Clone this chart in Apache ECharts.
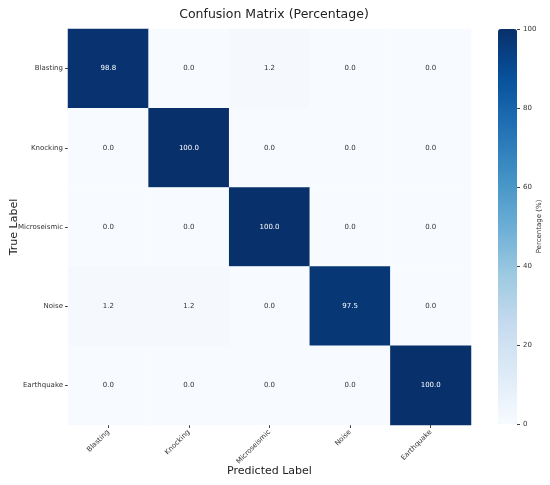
<!DOCTYPE html>
<html>
<head>
<meta charset="utf-8">
<script src="https://cdn.jsdelivr.net/npm/echarts@6/dist/echarts.min.js"></script>
<style>html,body{margin:0;padding:0;background:#fff;}#c{width:550px;height:485px;}</style>
</head>
<body>
<div id="c"></div>
<script>
var classes = ['Blasting', 'Knocking', 'Microseismic', 'Noise', 'Earthquake'];
var matrix = [
  [98.8, 0.0, 1.2, 0.0, 0.0],
  [0.0, 100.0, 0.0, 0.0, 0.0],
  [0.0, 0.0, 100.0, 0.0, 0.0],
  [1.2, 1.2, 0.0, 97.5, 0.0],
  [0.0, 0.0, 0.0, 0.0, 100.0]
];
var colorbarTicks = [0, 20, 40, 60, 80, 100];
var blues = ['#f7fbff', '#deebf7', '#c6dbef', '#9ecae1', '#6baed6', '#4292c6', '#2171b5', '#08519c', '#08306b'];

var data = [];
for (var r = 0; r < matrix.length; r++) {
  for (var c = 0; c < matrix[r].length; c++) {
    var v = matrix[r][c];
    data.push({value: [c, r, v], label: {color: v > 50 ? '#ffffff' : '#333333'}});
  }
}
var FONT = 'DejaVu Sans';
var chart = echarts.init(document.getElementById('c'), null, {renderer: 'canvas'});
chart.setOption({
  animation: false,
  backgroundColor: '#fff',
  textStyle: {fontFamily: FONT},
  title: {
    text: 'Confusion Matrix (Percentage)',
    left: 269, top: 3, textAlign: 'center',
    textStyle: {fontFamily: FONT, fontSize: 12.5, fontWeight: 'normal', color: '#222'}
  },
  grid: [
    {left: 68, top: 29, width: 403, height: 396, containLabel: false, outerBoundsMode: 'none'},
    {left: 517, top: 29, width: 20, height: 395, containLabel: false, outerBoundsMode: 'none'}
  ],
  xAxis: [
    {
      type: 'category', data: classes, gridIndex: 0,
      name: 'Predicted Label', nameLocation: 'middle', nameGap: 41, nameMoveOverlap: false,
      nameTextStyle: {fontFamily: FONT, fontSize: 11, color: '#222'},
      axisLine: {show: false},
      axisTick: {show: true, alignWithLabel: true, length: 3, lineStyle: {color: '#444'}},
      axisLabel: {rotate: 45, fontSize: 7, color: '#333', margin: 6, fontFamily: FONT, interval: 0},
      splitLine: {show: false}
    },
    {type: 'value', gridIndex: 1, show: false, min: 0, max: 1}
  ],
  yAxis: [
    {
      type: 'category', data: classes, inverse: true, gridIndex: 0,
      name: 'True Label', nameLocation: 'middle', nameGap: 48, nameRotate: 90, nameMoveOverlap: false,
      nameTextStyle: {fontFamily: FONT, fontSize: 11, color: '#222'},
      axisLine: {show: false},
      axisTick: {show: true, alignWithLabel: true, length: 3, lineStyle: {color: '#444'}},
      axisLabel: {fontSize: 7, color: '#333', margin: 5, fontFamily: FONT, interval: 0},
      splitLine: {show: false}
    },
    {
      type: 'value', gridIndex: 1, position: 'left',
      min: colorbarTicks[0], max: colorbarTicks[colorbarTicks.length - 1], interval: 20,
      name: 'Percentage (%)', nameLocation: 'middle', nameGap: -26, nameRotate: 90, nameMoveOverlap: false,
      nameTextStyle: {fontFamily: FONT, fontSize: 7, color: '#333'},
      axisLine: {show: false},
      axisTick: {show: true, length: 3, inside: true, lineStyle: {color: '#444'}},
      axisLabel: {fontSize: 7, color: '#333', margin: 6, inside: true, fontFamily: FONT},
      splitLine: {show: false}
    }
  ],
  visualMap: {
    type: 'continuous', min: 0, max: 100, seriesIndex: 0,
    calculable: false, show: true, orient: 'vertical', hoverLink: false,
    left: 498, top: 29, itemWidth: 19, itemHeight: 395, padding: 0,
    text: null, showLabel: false,
    inRange: {color: blues}
  },
  series: [{
    type: 'heatmap', xAxisIndex: 0, yAxisIndex: 0,
    data: data,
    label: {
      show: true, fontSize: 7, fontFamily: FONT,
      formatter: function (p) { return p.value[2].toFixed(1); }
    },
    itemStyle: {borderWidth: 0},
    emphasis: {disabled: true}
  }]
});
</script>
</body>
</html>
